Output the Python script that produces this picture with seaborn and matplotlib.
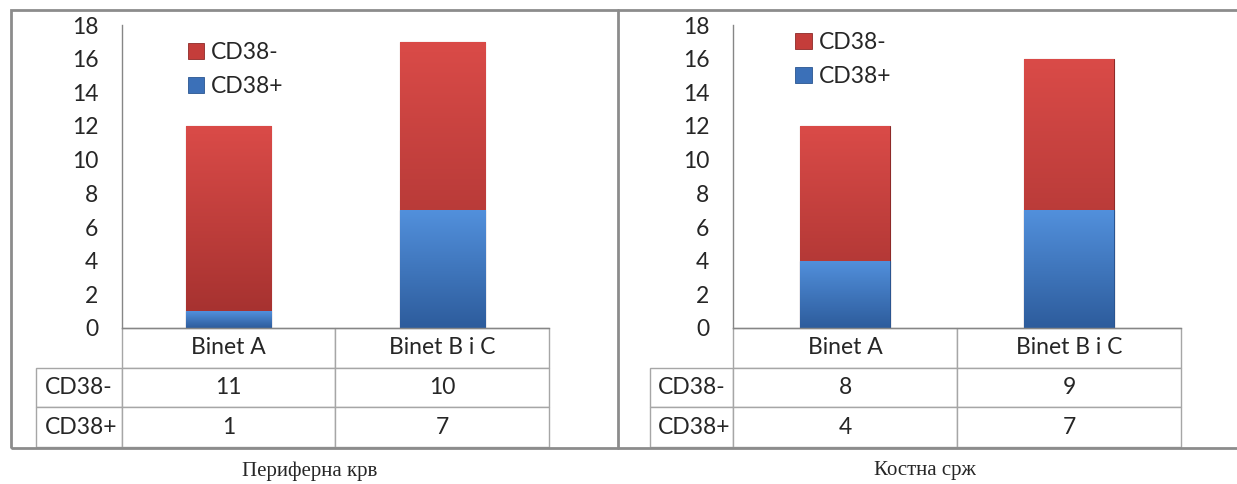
import matplotlib
matplotlib.use("Agg")
import matplotlib.pyplot as plt
import numpy as np
import pandas as pd
import seaborn as sns
from matplotlib.lines import Line2D
from matplotlib.patches import Rectangle
from matplotlib.table import Table

CATEGORIES = ["Binet A", "Binet B i C"]
SERIES = ["CD38-", "CD38+"]
BLOOD_NEG = [11, 10]
BLOOD_POS = [1, 7]
MARROW_NEG = [8, 9]
MARROW_POS = [4, 7]
PANEL_TITLES = ["Периферна крв", "Костна срж"]
Y_TICKS = list(range(0, 19, 2))

W, H = 1237, 484
RED = "#C43D3A"
RED_TOP = "#DA4B48"
RED_BOT = "#A2302E"
BLUE = "#3B70B8"
BLUE_TOP = "#5290DC"
BLUE_BOT = "#2D5C9C"
LINE_GRAY = "#A6A6A6"
FRAME_GRAY = "#8C8C8C"
FONT = "Lato"
FS = 16.5


def shade_bars(ax, patches, top, bottom):
    # vertical gradient clipped to each bar, gives a bit of the 3D look
    cmap = matplotlib.colors.LinearSegmentedColormap.from_list("g", [bottom, top])
    grad = np.linspace(0, 1, 256).reshape(-1, 1)
    for p in patches:
        b = p.get_bbox()
        im = ax.imshow(grad, cmap=cmap, aspect="auto", origin="lower",
                       extent=[b.x0, b.x1, b.y0, b.y1], zorder=p.get_zorder() + 0.1)
        im.set_clip_path(p)


def draw_panel(ax, neg, pos, legend_xy, label_w):
    df = pd.DataFrame({"category": CATEGORIES, "CD38-": neg, "CD38+": pos})
    df["total"] = df["CD38-"] + df["CD38+"]

    sns.barplot(data=df, x="category", y="total", color=RED, width=0.4,
                saturation=1, edgecolor="#8E2A28", linewidth=0.8, ax=ax)
    n_red = len(ax.patches)
    sns.barplot(data=df, x="category", y="CD38+", color=BLUE, width=0.4,
                saturation=1, edgecolor="#2A5590", linewidth=0.8, ax=ax)
    shade_bars(ax, ax.patches[:n_red], RED_TOP, RED_BOT)
    shade_bars(ax, ax.patches[n_red:], BLUE_TOP, BLUE_BOT)

    ax.set_xlim(-0.5, 1.5)
    ax.set_ylim(0, 18)
    ax.set_yticks(Y_TICKS)
    ax.set_xticks([])
    ax.set_xlabel("")
    ax.set_ylabel("")
    ax.tick_params(axis="y", direction="out", length=6, width=1, color="#868686",
                   labelsize=FS, pad=11)
    for side in ["top", "right"]:
        ax.spines[side].set_visible(False)
    for side in ["left", "bottom"]:
        ax.spines[side].set_color("#868686")
        ax.spines[side].set_linewidth(1)

    handles = [Rectangle((0, 0), 1, 1, fc=RED, ec="#8E2A28", lw=0.6),
               Rectangle((0, 0), 1, 1, fc=BLUE, ec="#2A5590", lw=0.6)]
    ax.legend(handles, SERIES, loc="upper left", bbox_to_anchor=legend_xy,
              frameon=False, handlelength=0.7, handleheight=0.7,
              handletextpad=0.3, labelspacing=0.6, borderaxespad=0,
              prop={"family": FONT, "size": FS})

    # data table under the plot; bbox covers the value columns only
    tab = Table(ax, bbox=[0, -0.393, 1, 0.393])
    h = 1 / 3
    for j, cat in enumerate(CATEGORIES):
        tab.add_cell(0, j, 0.5, h, text=cat, loc="center")
    for i, (name, vals) in enumerate(zip(SERIES, [neg, pos]), start=1):
        tab.add_cell(i, -1, label_w, h, text=name, loc="left")
        for j, v in enumerate(vals):
            tab.add_cell(i, j, 0.5, h, text=str(v), loc="center")
    tab.auto_set_font_size(False)
    for cell in tab.get_celld().values():
        cell.set_edgecolor(LINE_GRAY)
        cell.set_linewidth(1)
        cell.get_text().set_fontsize(FS)
        cell.get_text().set_fontfamily(FONT)
    ax.add_table(tab)


def main():
    sns.set_style("white")
    plt.rcParams["font.family"] = [FONT, "DejaVu Sans"]

    fig = plt.figure(figsize=(W / 100, H / 100), dpi=100)
    ax_l = fig.add_axes([122 / W, 1 - 328 / H, 427 / W, 303 / H])
    ax_r = fig.add_axes([733 / W, 1 - 328 / H, 448 / W, 303 / H])

    draw_panel(ax_l, BLOOD_NEG, BLOOD_POS, (0.133, 0.975), (122 - 36) / 427)
    draw_panel(ax_r, MARROW_NEG, MARROW_POS, (0.119, 1.008), (733 - 650) / 448)

    # outer frame and divider
    fig.add_artist(Rectangle((11 / W, 1 - 448 / H), 1.2, 438 / H, transform=fig.transFigure,
                             fill=False, ec=FRAME_GRAY, lw=2, clip_on=False))
    fig.add_artist(Line2D([618 / W, 618 / W], [1 - 10 / H, 1 - 448 / H],
                          transform=fig.transFigure, color=FRAME_GRAY, lw=2))

    for title, cx in zip(PANEL_TITLES, [310, 925]):
        fig.text(cx / W, 1 - 471 / H, title, ha="center", va="center",
                 family="Liberation Serif", fontsize=15)

    fig.savefig("out.png", dpi=100)
    plt.close(fig)


if __name__ == "__main__":
    main()
